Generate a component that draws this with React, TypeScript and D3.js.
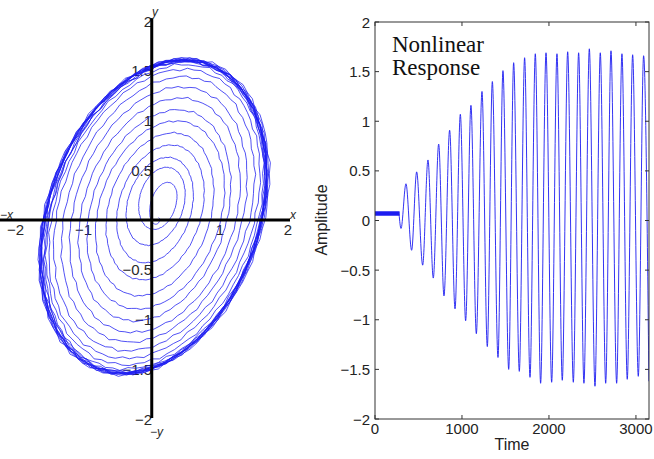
import React from "react";
import * as d3 from "d3";

// ---------- Data ----------
// Right panel: time series extremes
const restLevel = 0.07;
const restEnd = 276;
const peakTimes = [356, 479, 609, 732, 858, 981, 1103, 1230, 1349, 1471, 1594, 1720, 1843, 1966, 2092, 2215, 2341, 2464, 2590, 2713, 2839, 2962, 3088];
const peakValues = [0.37, 0.49, 0.61, 0.77, 0.91, 1.07, 1.16, 1.3, 1.4, 1.51, 1.59, 1.64, 1.68, 1.69, 1.68, 1.7, 1.69, 1.73, 1.69, 1.71, 1.68, 1.67, 1.66];
const troughTimes = [299, 421, 548, 670, 793, 920, 1042, 1165, 1291, 1414, 1537, 1659, 1782, 1904, 2031, 2153, 2280, 2402, 2529, 2652, 2778, 2900, 3027, 3149];
const troughValues = [-0.08, -0.3, -0.45, -0.58, -0.76, -0.89, -1.01, -1.14, -1.27, -1.38, -1.5, -1.52, -1.58, -1.64, -1.63, -1.61, -1.63, -1.64, -1.67, -1.64, -1.64, -1.6, -1.57, -1.62];
const timeTicks = [0, 1000, 2000, 3000];
const ampTicks = [-2, -1.5, -1, -0.5, 0, 0.5, 1, 1.5, 2];

// Left panel: phase portrait loop extents (y), x extents come from the extremes above
const restLoop = { xmin: 0.02, xmax: 0.1, ymin: -0.04, ymax: 0.06 };
const phaseTop = [0.45, 0.55, 0.65, 0.78, 0.9, 1.02, 1.13, 1.25, 1.36, 1.46, 1.53, 1.57, 1.6, 1.61, 1.6, 1.62, 1.61, 1.63, 1.61, 1.62, 1.6, 1.6, 1.59];
const phaseBottom = [-0.05, -0.2, -0.38, -0.55, -0.72, -0.86, -0.98, -1.1, -1.2, -1.29, -1.37, -1.44, -1.49, -1.52, -1.53, -1.55, -1.54, -1.56, -1.55, -1.55, -1.54, -1.53, -1.53];
const phaseXTicks = [-2, -1, 1, 2];
const phaseYTicks = [-2, -1.5, -1, -0.5, 0.5, 1, 1.5, 2];

const fmt = (v: number) => (v < 0 ? "\u2212" + String(-v) : String(v));

const SANS = "'Liberation Sans', Arial, Helvetica, sans-serif";
const SERIF = "'Liberation Serif', 'Times New Roman', serif";
const BLUE = "#1c1cf0";

export default function App() {
  // ---------- Left panel ----------
  const xL = d3.scaleLinear().domain([-2, 2]).range([15.5, 288]);
  const yL = d3.scaleLinear().domain([-2, 2]).range([419, 21]);

  const loops = [
    restLoop,
    ...peakValues.map((p, k) => ({ xmin: troughValues[k], xmax: p, ymin: phaseBottom[k], ymax: phaseTop[k] })),
  ];
  const tilt = 0.28;
  const norm = Math.sqrt(1 + tilt * tilt);
  const phasePts: [number, number][] = [];
  const N = 90;
  let step = 0;
  const pushPt = (a: any, b: any, i: number) => {
    const f = i / N;
    const th = 2 * Math.PI * f;
    const xmin = a.xmin + (b.xmin - a.xmin) * f;
    const xmax = a.xmax + (b.xmax - a.xmax) * f;
    const ymin = a.ymin + (b.ymin - a.ymin) * f;
    const ymax = a.ymax + (b.ymax - a.ymax) * f;
    const cx = (xmin + xmax) / 2, rx = (xmax - xmin) / 2;
    const cy = (ymin + ymax) / 2, ry = (ymax - ymin) / 2;
    // small line texture (jagged trace)
    const s = step++;
    const jag = 0.007 * Math.sin(s * 2.71) + 0.005 * Math.sin(s * 1.37 + 0.5);
    const x = cx + rx * Math.cos(th) * (1 + jag);
    const y = cy + (ry * (tilt * Math.cos(th) - Math.sin(th)) / norm) * (1 + jag);
    phasePts.push([xL(x), yL(y)]);
  };
  for (let k = 0; k < loops.length - 1; k++) {
    for (let i = 0; i < N; i++) pushPt(loops[k], loops[k + 1], i);
  }
  const last = loops[loops.length - 1];
  for (let i = 0; i <= N; i++) pushPt(last, last, i);
  const phasePath = d3.line()(phasePts) || "";

  // ---------- Right panel ----------
  const x0 = 375, x1 = 649, y0 = 22, y1 = 419;
  const xR = d3.scaleLinear().domain([0, 3150]).range([x0, x1]);
  const yR = d3.scaleLinear().domain([-2, 2]).range([y1, y0]);

  const restPts: [number, number][] = [];
  for (let t = 0, i = 0; t <= restEnd; t += 3, i++) {
    restPts.push([t, restLevel + (i % 2 === 0 ? 0.022 : -0.022)]);
  }
  const ext: [number, number][] = [];
  troughTimes.forEach((t, k) => {
    ext.push([t, troughValues[k]]);
    if (k < peakTimes.length) ext.push([peakTimes[k], peakValues[k]]);
  });
  const restPath =
    d3
      .line<[number, number]>()
      .x((d) => xR(d[0]))
      .y((d) => yR(d[1]))(restPts) || "";
  const oscPath =
    d3
      .line<[number, number]>()
      .x((d) => xR(d[0]))
      .y((d) => yR(d[1]))
      .curve(d3.curveMonotoneX)([[restEnd, restLevel], ...ext]) || "";

  return (
    <svg
      width={654}
      height={459}
      style={{ position: "absolute", left: 0, top: 0, background: "#fff" }}
      fontFamily={SANS}
    >
      <rect x={0} y={0} width={654} height={459} fill="#fff" />
      {/* ---- Left panel ---- */}
      <g fill="#2a2a2a" fontSize={15}>
        {phaseYTicks.map((v) => (
          <text key={"ly" + v} x={152} y={yL(v)} textAnchor="end" dominantBaseline="central">
            {fmt(v)}
          </text>
        ))}
        {phaseXTicks.map((v) => (
          <text key={"lx" + v} x={xL(v)} y={235} textAnchor="middle">
            {fmt(v)}
          </text>
        ))}
      </g>
      <path d={phasePath} fill="none" stroke={BLUE} strokeWidth={0.85} strokeOpacity={0.9} />
      <line x1={0} x2={290} y1={yL(0)} y2={yL(0)} stroke="#000" strokeWidth={3} />
      <line x1={xL(0)} x2={xL(0)} y1={18} y2={418} stroke="#000" strokeWidth={3} />
      <g fill="#2a2a2a" fontSize={12} fontStyle="italic">
        <text x={290} y={yL(0) - 1}>x</text>
        <text x={0} y={yL(0) - 1}>{"\u2212x"}</text>
        <text x={152} y={16}>y</text>
        <text x={150} y={436}>{"\u2212y"}</text>
      </g>

      {/* ---- Right panel ---- */}
      <defs>
        <clipPath id="clipR">
          <rect x={x0} y={y0} width={x1 - x0} height={y1 - y0} />
        </clipPath>
      </defs>
      <g clipPath="url(#clipR)">
        <path d={restPath} fill="none" stroke={BLUE} strokeWidth={1.5} />
        <path d={oscPath} fill="none" stroke={BLUE} strokeWidth={0.9} />
      </g>
      <rect x={x0} y={y0} width={x1 - x0} height={y1 - y0} fill="none" stroke="#333" strokeWidth={1} />
      <g stroke="#333" strokeWidth={1}>
        {ampTicks.map((v) => (
          <g key={"rt" + v}>
            <line x1={x0} x2={x0 + 4} y1={yR(v)} y2={yR(v)} />
            <line x1={x1} x2={x1 - 4} y1={yR(v)} y2={yR(v)} />
          </g>
        ))}
        {timeTicks.map((v) => (
          <g key={"tt" + v}>
            <line x1={xR(v)} x2={xR(v)} y1={y1} y2={y1 - 4} />
            <line x1={xR(v)} x2={xR(v)} y1={y0} y2={y0 + 4} />
          </g>
        ))}
      </g>
      <g fill="#222" fontSize={15}>
        {ampTicks.map((v) => (
          <text key={"ry" + v} x={370} y={yR(v)} textAnchor="end" dominantBaseline="central">
            {fmt(v)}
          </text>
        ))}
        {timeTicks.map((v) => (
          <text key={"rx" + v} x={xR(v)} y={434} textAnchor="middle">
            {fmt(v)}
          </text>
        ))}
      </g>
      <text x={512} y={450} textAnchor="middle" fontSize={16} fill="#222">
        Time
      </text>
      <text transform="translate(327,220) rotate(-90)" textAnchor="middle" fontSize={16} fill="#222">
        Amplitude
      </text>
      <g fontFamily={SERIF} fontSize={23} fill="#111">
        <text x={392} y={52}>Nonlinear</text>
        <text x={392} y={75}>Response</text>
      </g>
    </svg>
  );
}
